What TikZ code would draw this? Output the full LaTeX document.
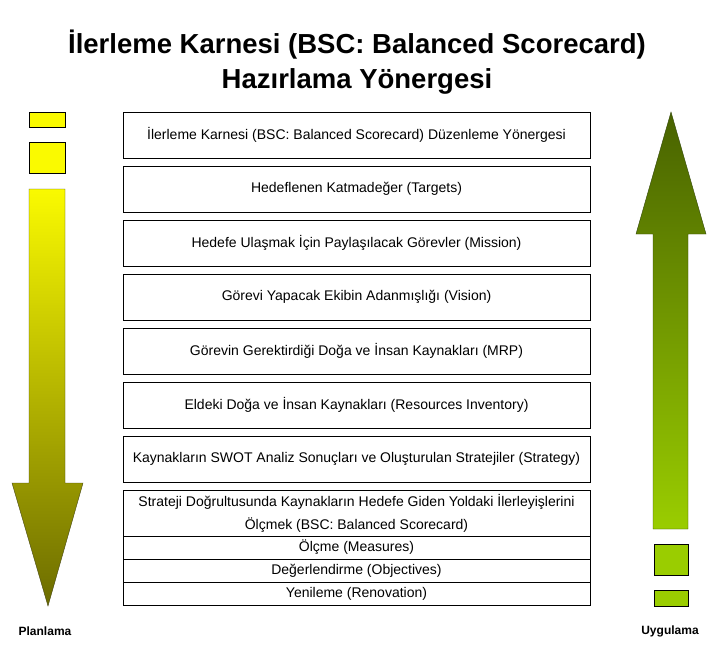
\documentclass[tikz,border=0pt]{standalone}
\usepackage{fontspec}
\setmainfont{Liberation Sans}
\definecolor{planlight}{RGB}{250,250,0}
\definecolor{plandark}{RGB}{108,108,0}
\definecolor{planline}{RGB}{70,70,20}
\definecolor{uyglight}{RGB}{154,205,0}
\definecolor{uygdark}{RGB}{72,98,0}
\definecolor{uygline}{RGB}{50,70,10}
\begin{document}
\begin{tikzpicture}[x=1pt,y=-1pt,
  box/.style={draw, minimum width=467pt, minimum height=46pt, inner sep=0pt,
    font=\fontsize{14}{17}\selectfont},
  row/.style={draw, minimum width=467pt, inner sep=0pt, align=center,
    font=\fontsize{14}{23}\selectfont},
  side/.style={font=\bfseries\fontsize{12}{14}\selectfont}]
  \useasboundingbox (0,0) rectangle (714,654);

  % Title
  \node[anchor=base, font=\bfseries\fontsize{27.5}{33}\selectfont] (title1) at (357,53) {İlerleme Karnesi (BSC: Balanced Scorecard)};
  \node[anchor=base, font=\bfseries\fontsize{27.5}{33}\selectfont] (title2) at (357,88) {Hazırlama Yönergesi};

  % Steps
  \node[box] (s1) at (356.5,135) {İlerleme Karnesi (BSC: Balanced Scorecard) Düzenleme Yönergesi};
  \node[box] (s2) at (356.5,189) {Hedeflenen Katmadeğer (Targets)};
  \node[box] (s3) at (356.5,243) {Hedefe Ulaşmak İçin Paylaşılacak Görevler (Mission)};
  \node[box] (s4) at (356.5,297) {Görevi Yapacak Ekibin Adanmışlığı (Vision)};
  \node[box] (s5) at (356.5,351) {Görevin Gerektirdiği Doğa ve İnsan Kaynakları (MRP)};
  \node[box] (s6) at (356.5,405) {Eldeki Doğa ve İnsan Kaynakları (Resources Inventory)};
  \node[box] (s7) at (356.5,459) {Kaynakların SWOT Analiz Sonuçları ve Oluşturulan Stratejiler (Strategy)};

  % Measuring table
  \node[row, minimum height=46pt] (m1) at (356.5,513) {Strateji Doğrultusunda Kaynakların Hedefe Giden Yoldaki İlerleyişlerini\\Ölçmek (BSC: Balanced Scorecard)};
  \node[row, minimum height=23pt] (m2) at (356.5,547.5) {Ölçme (Measures)};
  \node[row, minimum height=23pt] (m3) at (356.5,570.5) {Değerlendirme (Objectives)};
  \node[row, minimum height=23pt] (m4) at (356.5,593.5) {Yenileme (Renovation)};

  % Planlama arrow (down)
  \filldraw[fill=planlight] (29,112) rectangle (65,127);
  \filldraw[fill=planlight] (29,142) rectangle (65,173);
  \shade[top color=planlight, bottom color=plandark, draw=planline]
    (29,189) -- (65,189) -- (65,483) -- (83,483) -- (48,606) -- (12,483) -- (29,483) -- cycle;
  \node[side] (plan) at (45,631) {Planlama};

  % Uygulama arrow (up)
  \shade[top color=uygdark, bottom color=uyglight, draw=uygline]
    (671,112) -- (706,234) -- (688,234) -- (688,529) -- (653,529) -- (653,234) -- (636,234) -- cycle;
  \filldraw[fill=uyglight] (654,544) rectangle (688,575);
  \filldraw[fill=uyglight] (654,590) rectangle (688,606);
  \node[side] (uyg) at (670,631) {Uygulama};
\end{tikzpicture}
\end{document}
